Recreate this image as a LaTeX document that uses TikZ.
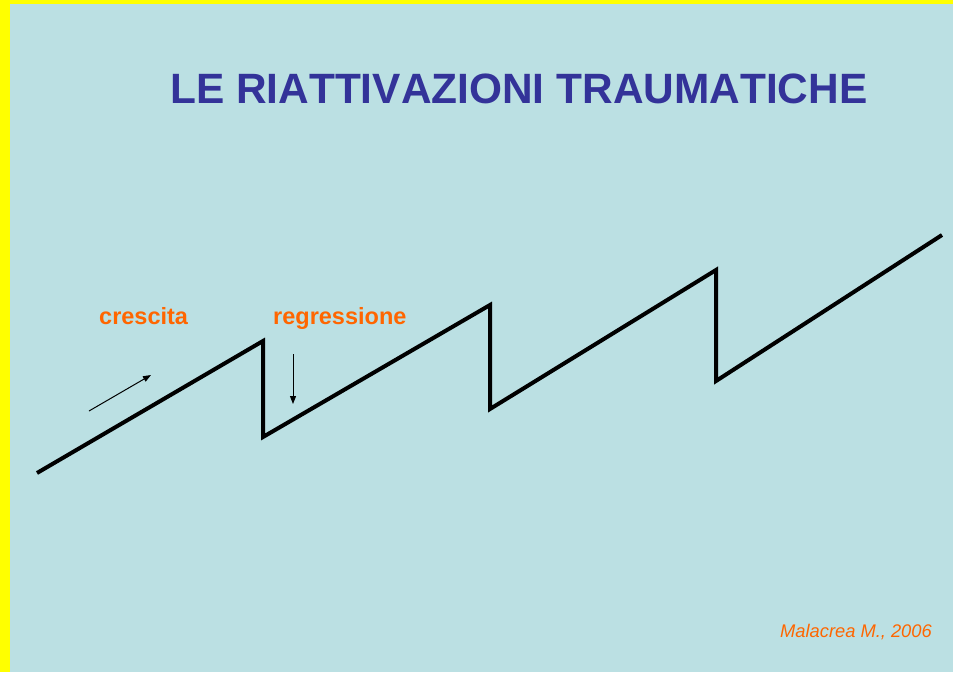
\documentclass[tikz,border=0pt]{standalone}
\usepackage{fontspec}
\setmainfont{Liberation Sans}
\usetikzlibrary{arrows.meta}
\definecolor{bgblue}{HTML}{BBE0E3}
\definecolor{titleblue}{HTML}{333399}
\definecolor{orangetxt}{HTML}{FF6600}
\definecolor{borderyellow}{HTML}{FFFF00}
\begin{document}
\begin{tikzpicture}[x=1pt,y=-1pt,
  zig/.style={line width=4pt,line join=miter,draw=black},
  smallarrow/.style={line width=1pt,-{Triangle[length=8pt,width=6pt]}},
  lbl/.style={text=orangetxt,font=\bfseries\fontsize{23.5}{26}\selectfont,inner sep=0pt,anchor=base west}]
\useasboundingbox (0,0) rectangle (953,672);
\fill[borderyellow] (0,0) rectangle (953,672);
\fill[bgblue] (10,4) rectangle (953,672);
\node[inner sep=0pt,anchor=base west,text=titleblue,font=\bfseries\fontsize{42.4}{46}\selectfont\addfontfeatures{Kerning=Off}] (title) at (170,103) {LE RIATTIVAZIONI TRAUMATICHE};
\coordinate (p0) at (37,473);
\coordinate (p1) at (263,341);
\coordinate (p2) at (263,437);
\coordinate (p3) at (490,305);
\coordinate (p4) at (490,409);
\coordinate (p5) at (716,270);
\coordinate (p6) at (716,381);
\coordinate (p7) at (942,235);
\draw[zig] (p0) -- (p1) -- (p2) -- (p3) -- (p4) -- (p5) -- (p6) -- (p7);
\node[lbl] (cr) at (99,324) {crescita};
\node[lbl] (rg) at (273,324) {regressione};
\coordinate (a1s) at (89,411);
\coordinate (a1e) at (151,375);
\draw[smallarrow] (a1s) -- (a1e);
\coordinate (a2s) at (293,354);
\coordinate (a2e) at (293,404);
\draw[smallarrow] (a2s) -- (a2e);
\node[inner sep=0pt,anchor=base west,text=orangetxt,font=\itshape\fontsize{18.3}{20}\selectfont] (cite) at (780,637) {Malacrea M., 2006};
\end{tikzpicture}
\end{document}
